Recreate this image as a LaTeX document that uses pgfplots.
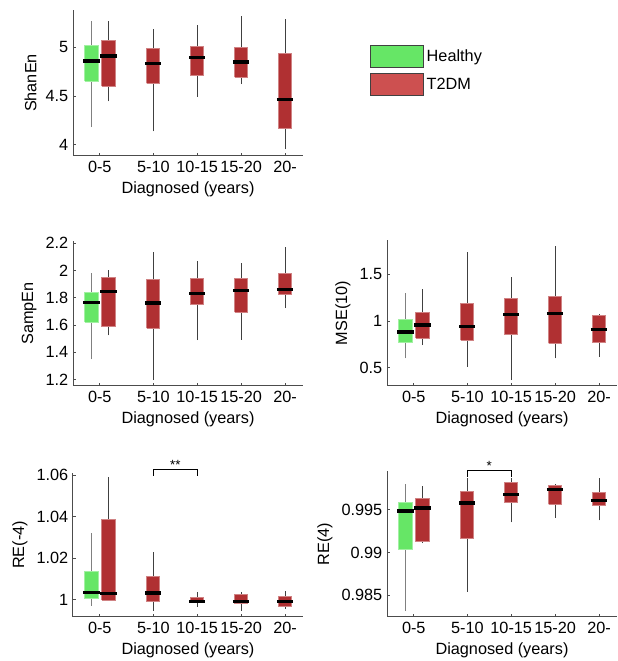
\documentclass[border=0pt]{standalone}
\usepackage{fontspec}
\setmainfont{Liberation Sans}
\usepackage{pgfplots}
\pgfplotsset{compat=1.18}
\definecolor{hgreen}{RGB}{102,230,102}
\definecolor{tred}{RGB}{176,48,50}
\definecolor{lred}{RGB}{205,80,80}
\newcommand{\fs}{\fontsize{12.2}{14.2}\selectfont}
% box: style, position, lower whisker, lower quartile, median, upper quartile, upper whisker
\newcommand{\bx}[7]{%
  \pgfmathsetmacro\xl{#2-0.15}\pgfmathsetmacro\xr{#2+0.15}%
  \pgfmathsetmacro\ml{#2-0.185}\pgfmathsetmacro\mr{#2+0.185}%
  \addplot[forget plot, draw=#1wh, line width=0.75pt] coordinates {(#2,#3) (#2,#7)};
  \addplot[forget plot, fill=#1, draw=#1!60!white, line width=0.75pt]
    coordinates {(\xl,#4) (\xr,#4) (\xr,#6) (\xl,#6) (\xl,#4)};
  \addplot[forget plot, draw=black, line width=2.4pt] coordinates {(\ml,#5) (\mr,#5)};
}
\colorlet{hgreenwh}{black!50}
\colorlet{tredwh}{black!75}
\pgfplotsset{
  panel/.style={
    scale only axis, width=172.5pt, anchor=south west,
    xmin=0.17, xmax=5.41,
    xtick={0.78,2,3,4,5}, xticklabels={0-5,5-10,10-15,15-20,20-},
    axis x line=bottom, axis y line=left,
    axis line style={-, black!70, line width=0.75pt},
    tick align=inside, major tick length=2.25pt,
    tick style={black!70, line width=0.6pt},
    tick label style={font=\fs}, label style={font=\fs},
    xlabel={Diagnosed (years)},
    /pgf/number format/assume math mode=true,
    scaled y ticks=false, clip=false,
  },
}
\begin{document}
\begin{tikzpicture}
\useasboundingbox (0,0) rectangle (463.5pt,495.75pt);

% ShanEn
\begin{axis}[panel, at={(54.75pt,378.75pt)}, height=109.5pt,
  ymin=3.884, ymax=5.383, ytick={4,4.5,5}, ylabel={ShanEn},
  legend image code/.code={\draw[#1] (0pt,-8.25pt) rectangle (39.75pt,8.25pt);},
  legend style={at={(1.2913,0.7603)}, anchor=north west, draw=none, fill=none,
    inner sep=0pt, row sep=3.75pt, font=\fs},
  legend cell align=left]
\bx{hgreen}{0.59}{4.18}{4.65}{4.86}{5.02}{5.273}
\bx{tred}{0.98}{4.445}{4.60}{4.91}{5.07}{5.267}
\bx{tred}{2}{4.138}{4.63}{4.836}{4.986}{5.185}
\bx{tred}{3}{4.49}{4.71}{4.897}{5.013}{5.226}
\bx{tred}{4}{4.623}{4.695}{4.849}{4.993}{5.32}
\bx{tred}{5}{3.953}{4.164}{4.466}{4.938}{5.287}
\addlegendimage{fill=hgreen, draw=black!75, line width=0.6pt}
\addlegendentry{Healthy}
\addlegendimage{fill=lred, draw=black!75, line width=0.6pt}
\addlegendentry{T2DM}
\end{axis}

% SampEn
\begin{axis}[panel, at={(54.75pt,206.25pt)}, height=108.75pt,
  ymin=1.154, ymax=2.215, ytick={1.2,1.4,1.6,1.8,2,2.2}, ylabel={SampEn}]
\bx{hgreen}{0.59}{1.348}{1.621}{1.767}{1.84}{1.981}
\bx{tred}{0.98}{1.524}{1.587}{1.845}{1.947}{2.0}
\bx{tred}{2}{1.198}{1.577}{1.762}{1.932}{2.137}
\bx{tred}{3}{1.49}{1.747}{1.83}{1.942}{2.069}
\bx{tred}{4}{1.494}{1.694}{1.85}{1.942}{2.054}
\bx{tred}{5}{1.723}{1.82}{1.859}{1.976}{2.171}
\end{axis}

% MSE(10)
\begin{axis}[panel, at={(290.25pt,206.25pt)}, height=109.5pt,
  ymin=0.304, ymax=1.868, ytick={0.5,1,1.5}, ylabel={MSE(10)}]
\bx{hgreen}{0.59}{0.6}{0.768}{0.882}{1.011}{1.296}
\bx{tred}{0.98}{0.743}{0.818}{0.957}{1.096}{1.346}
\bx{tred}{2}{0.511}{0.796}{0.939}{1.189}{1.739}
\bx{tred}{3}{0.368}{0.854}{1.068}{1.239}{1.468}
\bx{tred}{4}{0.6}{0.761}{1.079}{1.268}{1.804}
\bx{tred}{5}{0.618}{0.771}{0.911}{1.061}{1.075}
\end{axis}

% RE(-4)
\begin{axis}[panel, at={(54.75pt,33pt)}, height=108pt,
  ymin=0.9916, ymax=1.061, ytick={1,1.02,1.04,1.06}, ylabel={RE(-4)}]
\bx{hgreen}{0.59}{0.9971}{1.0003}{1.0035}{1.0135}{1.0319}
\bx{tred}{0.98}{0.9995}{0.9997}{1.0029}{1.0387}{1.059}
\bx{tred}{2}{0.9945}{0.999}{1.0032}{1.011}{1.0229}
\bx{tred}{3}{0.9965}{0.9984}{0.999}{1.001}{1.0035}
\bx{tred}{4}{0.9945}{0.998}{0.999}{1.0023}{1.0035}
\bx{tred}{5}{0.9955}{0.9965}{0.999}{1.0016}{1.0039}
\draw[black, line width=0.75pt] (axis cs:2,1.0597) -- (axis cs:2,1.0626)
  -- (axis cs:3,1.0626) -- (axis cs:3,1.0597);
\node[anchor=base, inner sep=0pt, font=\fontsize{10}{12}\selectfont]
  at (axis cs:2.5,1.0627) {**};
\end{axis}

% RE(4)
\begin{axis}[panel, at={(290.25pt,33pt)}, height=109.5pt,
  ymin=0.98247, ymax=0.99951, ytick={0.985,0.99,0.995}, ylabel={RE(4)},
  yticklabel style={/pgf/number format/precision=3}]
\bx{hgreen}{0.59}{0.98317}{0.99033}{0.99484}{0.99586}{0.99796}
\bx{tred}{0.98}{0.9911}{0.99126}{0.99519}{0.99632}{0.9978}
\bx{tred}{2}{0.98539}{0.99158}{0.99578}{0.9971}{0.99866}
\bx{tred}{3}{0.99352}{0.99578}{0.99679}{0.99811}{0.99866}
\bx{tred}{4}{0.99407}{0.99562}{0.99733}{0.9978}{0.99796}
\bx{tred}{5}{0.99375}{0.99547}{0.99605}{0.99695}{0.99874}
\draw[black, line width=0.75pt] (axis cs:2,0.99881) -- (axis cs:2,0.99959)
  -- (axis cs:3,0.99959) -- (axis cs:3,0.99881);
\node[anchor=base, inner sep=0pt, font=\fontsize{10}{12}\selectfont]
  at (axis cs:2.5,0.99961) {*};
\end{axis}
\end{tikzpicture}
\end{document}
